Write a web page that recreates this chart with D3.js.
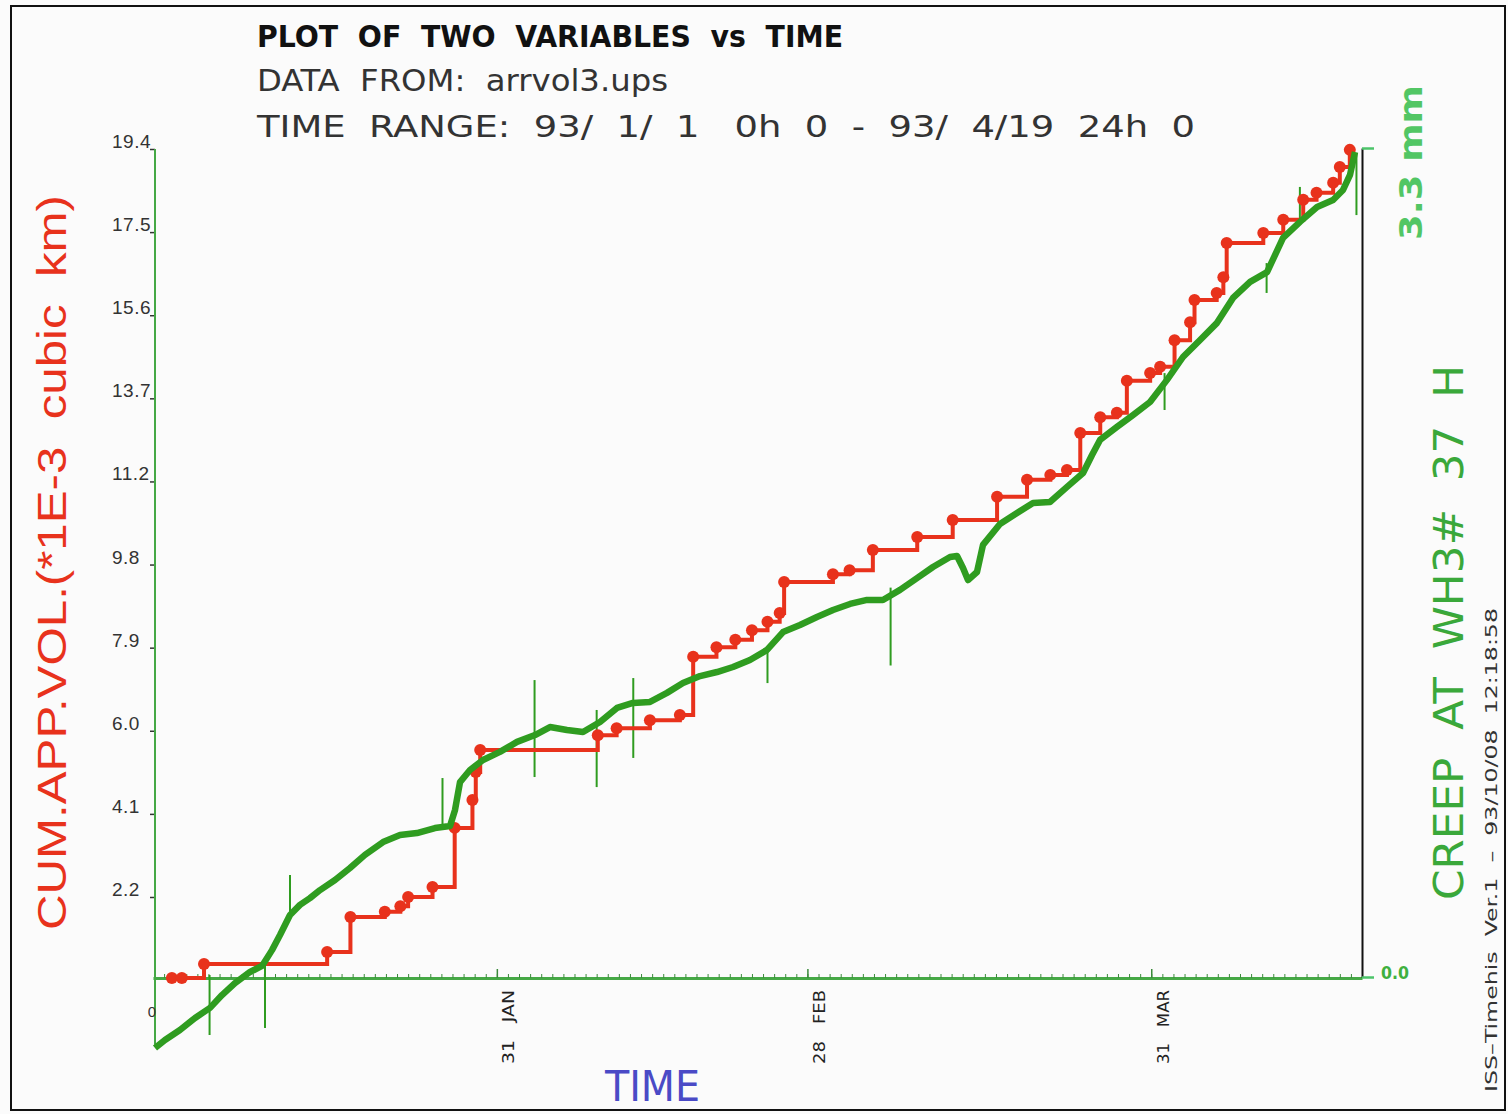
<!DOCTYPE html>
<html>
<head>
<meta charset="utf-8">
<script src="https://cdn.jsdelivr.net/npm/d3@7"></script>
<style>
  body { margin: 0; background: #fff; }
  text { white-space: pre; }
</style>
</head>
<body>
<div id="chart"></div>
<script>
// cumulative apparent volume (red, left axis), day offset from 93/1/1 0h
const redDays = [1.7, 2.6, 4.6, 15.7, 17.8, 20.9, 22.3, 23.0, 25.2, 27.2, 28.8, 29.1, 29.5,
  40.1, 41.8, 44.8, 47.5, 48.7, 50.8, 52.5, 54.0, 55.4, 56.5, 56.9, 61.3, 62.8, 64.9,
  68.9, 72.1, 76.1, 78.8, 80.9, 82.4, 83.6, 85.4, 86.9, 87.8, 89.9, 90.8, 92.1, 93.5,
  93.9, 95.9, 96.5, 96.8, 100.1, 101.9, 103.7, 104.9, 106.4, 107.0, 107.9];
const redVol = [0.45, 0.45, 0.77, 1.04, 1.84, 1.96, 2.09, 2.30, 2.53, 3.88, 4.52, 5.16, 5.66,
  6.00, 6.16, 6.34, 6.46, 7.79, 8.01, 8.18, 8.40, 8.59, 8.79, 9.50, 9.68, 9.77, 10.23,
  10.53, 10.92, 11.45, 11.84, 11.95, 12.06, 12.91, 13.27, 13.37, 14.10, 14.28, 14.42, 15.03, 15.44,
  15.95, 16.11, 16.47, 17.25, 17.48, 17.78, 18.24, 18.40, 18.63, 18.99, 19.38];

// creep at WH3# (green, right axis, mm)
const creepDays = [0.18, 1.08, 2.43, 3.79, 5.14, 6.22, 7.39, 8.75, 9.83, 10.73, 11.45, 12.35,
  13.25, 14.15, 15.06, 16.41, 17.76, 19.11, 20.74, 22.27, 23.80, 25.42, 26.78, 27.23, 27.68,
  28.58, 29.75, 31.28, 32.82, 34.44, 35.79, 37.32, 38.77, 40.30, 41.83, 43.27, 44.81, 46.34,
  47.78, 49.32, 50.85, 52.29, 53.82, 55.36, 56.80, 58.33, 59.86, 61.31, 62.84, 64.37, 65.81,
  67.35, 68.88, 70.32, 71.86, 72.49, 73.03, 73.48, 74.29, 74.83, 76.36, 77.90, 79.34, 80.87,
  82.41, 83.85, 84.66, 85.38, 86.91, 88.35, 89.89, 91.42, 92.86, 94.40, 95.93, 97.37, 98.91,
  100.44, 101.88, 103.41, 104.95, 106.39, 107.29, 107.92, 108.37];
const creepMm = [-0.283, -0.251, -0.211, -0.163, -0.123, -0.072, -0.024, 0.020, 0.044, 0.107, 0.167, 0.247,
  0.287, 0.314, 0.346, 0.386, 0.434, 0.486, 0.537, 0.565, 0.573, 0.593, 0.601, 0.665, 0.776,
  0.824, 0.864, 0.896, 0.936, 0.963, 0.995, 0.983, 0.975, 1.015, 1.071, 1.091, 1.095, 1.131,
  1.170, 1.198, 1.214, 1.234, 1.262, 1.302, 1.373, 1.401, 1.433, 1.461, 1.485, 1.501, 1.501,
  1.541, 1.588, 1.632, 1.672, 1.676, 1.628, 1.580, 1.612, 1.720, 1.803, 1.847, 1.887, 1.891,
  1.951, 2.006, 2.078, 2.138, 2.190, 2.237, 2.289, 2.377, 2.468, 2.536, 2.604, 2.703, 2.767,
  2.806, 2.942, 3.006, 3.065, 3.093, 3.133, 3.193, 3.284];

// single-sample spikes in the creep record
const spikeDays = [5.1, 10.1, 12.35, 26.1, 34.4, 40.0, 43.3, 55.4, 66.5, 91.2, 100.4, 103.4, 108.5];
const spikeLow  = [-0.231, -0.203, 0.259, 0.605, 0.796, 0.756, 0.872, 1.170, 1.24, 2.257, 2.723, 3.002, 3.033];
const spikeHigh = [0.008, 0.076, 0.406, 0.792, 1.182, 1.063, 1.190, 1.302, 1.55, 2.404, 2.842, 3.145, 3.280];

const leftTickValues = [19.4, 17.5, 15.6, 13.7, 11.8, 9.9, 8.0, 6.1, 4.2, 2.3];
const leftTickLabels = ["19.4", "17.5", "15.6", "13.7", "11.2", "9.8", "7.9", "6.0", "4.1", "2.2"];
const monthTickDays = [31, 59, 90];
const monthTickLabels = ["31   JAN", "28   FEB", "31   MAR"];

const width = 1508, height = 1114;
const t0 = Date.UTC(1993, 0, 1);
const toDate = d => new Date(t0 + d * 864e5);

const x = d3.scaleUtc().domain([toDate(0), toDate(109)]).range([153, 1362]);
const yL = d3.scaleLinear().domain([0, 19.4]).range([997.6, 149]);
const yR = d3.scaleLinear().domain([0, 3.3]).range([977, 148]);

const RED = "#e8321c", GREEN = "#2f9c20", AXGREEN = "#45a845";
const narrow = "'DejaVu Sans Condensed','Liberation Sans Narrow','DejaVu Sans',sans-serif";

const svg = d3.select('#chart').append('svg')
  .attr('width', width).attr('height', height)
  .style('display', 'block');

svg.append('rect').attr('x', 0).attr('y', 0).attr('width', width).attr('height', height).attr('fill', '#fbfbfb');
svg.append('rect').attr('x', 11).attr('y', 6).attr('width', 1494).attr('height', 1104)
  .attr('fill', 'none').attr('stroke', '#111').attr('stroke-width', 2);

// header
const hdr = [
  {t: "PLOT  OF  TWO  VARIABLES  vs  TIME", y: 47, w: 586, bold: true},
  {t: "DATA  FROM:  arrvol3.ups", y: 91, w: 411, bold: false},
  {t: "TIME  RANGE:  93/  1/  1   0h  0  -  93/  4/19  24h  0", y: 137, w: 938, bold: false}
];
svg.selectAll('text.hdr').data(hdr).enter().append('text')
  .attr('class', 'hdr')
  .attr('x', 257).attr('y', d => d.y)
  .attr('textLength', d => d.w).attr('lengthAdjust', 'spacingAndGlyphs')
  .style('font-family', narrow)
  .style('font-size', '30px')
  .style('font-weight', d => d.bold ? 'bold' : 'normal')
  .attr('fill', d => d.bold ? '#111' : '#333')
  .text(d => d.t);

// left axis
const leftAxis = d3.axisLeft(yL).tickValues(leftTickValues).tickSize(5).tickSizeOuter(0)
  .tickFormat((d, i) => leftTickLabels[i]);
const gl = svg.append('g').attr('transform', 'translate(155,0)').call(leftAxis);
gl.select('.domain').remove();
gl.selectAll('.tick line').attr('stroke', '#333').attr('stroke-width', 1.5);
gl.selectAll('.tick text')
  .attr('x', -43).attr('dy', '-0.08em')
  .attr('text-anchor', 'start')
  .attr('font-size', null)
  .style('font-family', 'Liberation Sans, Arial, sans-serif')
  .style('font-size', '19px').style('letter-spacing', '0.5px').attr('fill', '#333');
svg.append('line')
  .attr('x1', 155).attr('x2', 155)
  .attr('y1', yL(19.4)).attr('y2', yR(-0.27))
  .attr('stroke', AXGREEN).attr('stroke-width', 2);

// bottom axis: daily minor ticks + month-end major ticks
const dayTicks = d3.range(1, 109).map(toDate);
const minorAxis = d3.axisBottom(x).tickValues(dayTicks).tickSize(-4).tickSizeOuter(0).tickFormat('');
const gb = svg.append('g').attr('transform', 'translate(0,978)').call(minorAxis);
gb.select('.domain').attr('stroke', AXGREEN).attr('stroke-width', 3);
gb.selectAll('.tick line').attr('stroke', '#3a8a3a');
const majorAxis = d3.axisBottom(x).tickValues(monthTickDays.map(toDate)).tickSize(-9).tickSizeOuter(0)
  .tickFormat((d, i) => monthTickLabels[i]);
const gm = svg.append('g').attr('transform', 'translate(0,978)').call(majorAxis);
gm.select('.domain').remove();
gm.selectAll('.tick line').attr('stroke', '#3a8a3a').attr('stroke-width', 1.5);
gm.selectAll('.tick text')
  .attr('transform', 'rotate(-90)')
  .attr('x', -12).attr('y', 17).attr('dy', 0)
  .attr('text-anchor', 'end')
  .attr('textLength', 74).attr('lengthAdjust', 'spacingAndGlyphs')
  .style('font-family', narrow).style('font-size', '16px').attr('fill', '#222');

svg.append('text').attr('x', 152).attr('y', 1017).attr('text-anchor', 'middle')
  .style('font-family', 'Liberation Sans, Arial, sans-serif').style('font-size', '15px')
  .attr('fill', '#333').text('0');

// right axis
const rightAxis = d3.axisRight(yR).tickValues([0, 3.3]).tickSize(12).tickSizeOuter(0).tickFormat('');
const gr = svg.append('g').attr('transform', 'translate(1362,0)').call(rightAxis);
gr.select('.domain').attr('stroke', '#111').attr('stroke-width', 2);
gr.selectAll('.tick line').attr('stroke', '#4cc46a').attr('stroke-width', 2.5);
svg.append('text').attr('x', 1381).attr('y', yR(0) + 2)
  .attr('textLength', 28).attr('lengthAdjust', 'spacingAndGlyphs')
  .style('font-family', narrow).style('font-size', '17px').style('font-weight', 'bold')
  .attr('fill', '#3fb03f').text('0.0');
svg.append('text')
  .attr('transform', `translate(1422,${yR(3.3) + 92}) rotate(-90)`)
  .attr('textLength', 155).attr('lengthAdjust', 'spacingAndGlyphs')
  .style('font-family', narrow).style('font-size', '32px').style('font-weight', 'bold')
  .attr('fill', '#52c664')
  .text('3.3 mm');

// creep spikes
svg.append('g').selectAll('line').data(spikeDays).enter().append('line')
  .attr('x1', d => x(toDate(d))).attr('x2', d => x(toDate(d)))
  .attr('y1', (d, i) => yR(spikeLow[i])).attr('y2', (d, i) => yR(spikeHigh[i]))
  .attr('stroke', GREEN).attr('stroke-width', 2);

// red step line
const redLine = d3.line()
  .x(d => x(toDate(d[0]))).y(d => yL(d[1]))
  .curve(d3.curveStepAfter);
const redPts = redDays.map((d, i) => [d, redVol[i]]);
svg.append('path').datum(redPts)
  .attr('d', redLine)
  .attr('fill', 'none').attr('stroke', RED).attr('stroke-width', 4);
svg.append('g').selectAll('circle').data(redPts).enter().append('circle')
  .attr('cx', d => x(toDate(d[0]))).attr('cy', d => yL(d[1]))
  .attr('r', 6).attr('fill', RED);

// green creep line
const greenLine = d3.line()
  .x(d => x(toDate(d[0]))).y(d => yR(d[1]));
svg.append('path').datum(creepDays.map((d, i) => [d, creepMm[i]]))
  .attr('d', greenLine)
  .attr('fill', 'none').attr('stroke', GREEN).attr('stroke-width', 6.5)
  .attr('stroke-linejoin', 'round');

// axis titles
svg.append('text')
  .attr('transform', 'translate(66,930) rotate(-90)')
  .attr('textLength', 735).attr('lengthAdjust', 'spacingAndGlyphs')
  .style('font-family', 'Liberation Sans, Arial, sans-serif').style('font-size', '40px')
  .attr('fill', RED)
  .text('CUM.APP.VOL.(*1E-3  cubic  km)');
svg.append('text')
  .attr('transform', 'translate(1463,900) rotate(-90)')
  .attr('textLength', 535).attr('lengthAdjust', 'spacingAndGlyphs')
  .style('font-family', narrow).style('font-size', '40px')
  .attr('fill', '#3aa83a')
  .text('CREEP  AT  WH3#  37  H');
svg.append('text')
  .attr('x', 605).attr('y', 1101)
  .attr('textLength', 95).attr('lengthAdjust', 'spacingAndGlyphs')
  .style('font-family', narrow).style('font-size', '42px')
  .attr('fill', '#4a4ac6')
  .text('TIME');
svg.append('text')
  .attr('transform', 'translate(1497,1092) rotate(-90)')
  .attr('textLength', 484).attr('lengthAdjust', 'spacingAndGlyphs')
  .style('font-family', narrow).style('font-size', '15px')
  .attr('fill', '#333')
  .text('ISS\u2013Timehis  Ver.1  \u2013  93/10/08  12:18:58');
</script>
</body>
</html>
